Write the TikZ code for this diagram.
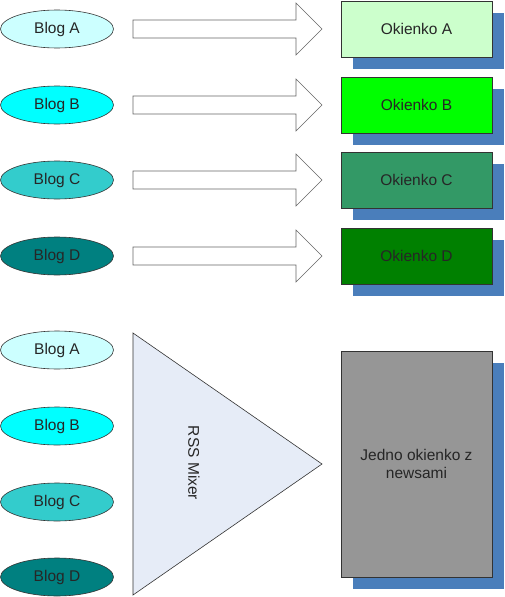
\documentclass[tikz,border=0pt]{standalone}
\usepackage{fontspec}
\setmainfont{Liberation Sans}
\usetikzlibrary{shadows,shapes.geometric}
\definecolor{blogA}{HTML}{CCFFFF}
\definecolor{blogB}{HTML}{00FFFF}
\definecolor{blogC}{HTML}{33CCCC}
\definecolor{blogD}{HTML}{008080}
\definecolor{okA}{HTML}{CCFFCC}
\definecolor{okB}{HTML}{00FF00}
\definecolor{okC}{HTML}{339966}
\definecolor{okD}{HTML}{008000}
\definecolor{shadowblue}{HTML}{4A7EBB}
\definecolor{mixfill}{HTML}{E6ECF7}
\definecolor{bigbox}{HTML}{969696}
\definecolor{edge}{HTML}{333333}
\tikzset{
  x=1pt, y=-1pt,
  every node/.style={font=\fontsize{15.5}{18.5}\selectfont, text=black!85},
  blog/.style={ellipse, draw=edge, line width=0.6pt, minimum width=113pt, minimum height=38pt, inner sep=0pt},
  okbox/.style={rectangle, draw=edge, line width=0.8pt, minimum width=151pt, minimum height=56pt, inner sep=0pt,
    general shadow={shadow xshift=12pt, shadow yshift=-12pt, fill=shadowblue}},
  blockarrow/.style={draw=black!60, line width=0.6pt, fill=white},
  mixer/.style={draw=edge, line width=0.6pt, fill=mixfill},
}
\begin{document}
\begin{tikzpicture}
\useasboundingbox (0,0) rectangle (504,597);
% top rows
\foreach \l/\y/\bc/\oc in {A/29/blogA/okA, B/105/blogB/okB, C/180/blogC/okC, D/256/blogD/okD}{
  \node[blog, fill=\bc] (blog\l) at (57,\y) {Blog \l};
  \draw[blockarrow] (133,\y-9) -- (296,\y-9) -- (296,\y-26) -- (322,\y) -- (296,\y+26) -- (296,\y+9) -- (133,\y+9) -- cycle;
  \node[okbox, fill=\oc] (ok\l) at (416.5,\y) {Okienko \l};
}
% bottom
\foreach \l/\y/\bc in {A/350/blogA, B/426/blogB, C/502/blogC, D/577/blogD}{
  \node[blog, fill=\bc] (mblog\l) at (57,\y) {Blog \l};
}
\draw[mixer] (133,333) -- (322,464) -- (133,595) -- cycle;
\node[rotate=-90] (mixer) at (194,463) {RSS Mixer};
\node[okbox, fill=bigbox, minimum height=226pt, align=center] (all) at (416.5,464) {Jedno okienko z\\newsami};
\end{tikzpicture}
\end{document}
